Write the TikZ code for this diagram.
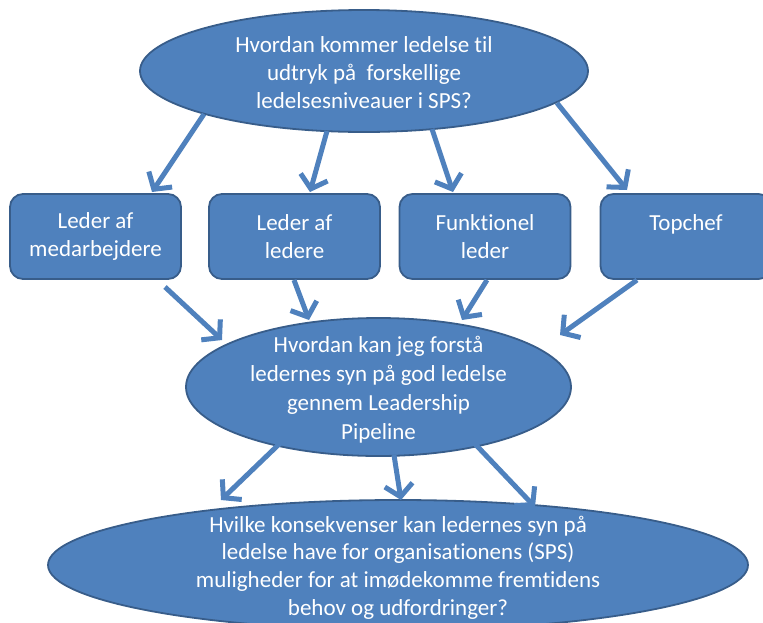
\documentclass[tikz,border=0pt]{standalone}
\usepackage{fontspec}
\setmainfont[Ligatures={NoCommon}]{Carlito}
\usetikzlibrary{shapes.geometric,arrows.meta,calc}
\definecolor{fillblue}{HTML}{4F81BD}
\definecolor{edgeblue}{HTML}{385D8A}
\definecolor{arrowblue}{HTML}{4F81BD}
\begin{document}
\begin{tikzpicture}[x=1pt,y=-1pt,
  txt/.style={text=white,font=\fontsize{23}{28}\selectfont,align=center,inner sep=0pt},
  oval/.style={ellipse,draw=edgeblue,line width=1.8pt,fill=fillblue,inner sep=0pt},
  levelbox/.style={rectangle,rounded corners=13pt,draw=edgeblue,line width=1.8pt,fill=fillblue,
    minimum width=171pt,minimum height=85pt,inner sep=0pt,text=white,
    font=\fontsize{23}{28}\selectfont,align=center},
  arr/.style={draw=arrowblue,line width=5pt,-{Straight Barb[length=12pt,width=28pt]}}
]
\useasboundingbox (0,0) rectangle (763,622);
\clip (0,0) rectangle (763,622);
% top ellipse
\node[oval,minimum width=448pt,minimum height=122pt] (top) at (364,71) {};
\node[txt] (toptext) at (364,73) {Hvordan kommer ledelse til\\udtryk på~ forskellige\\ledelsesniveauer i SPS?};
% boxes
\node[levelbox] (b1) at (95.5,236.5) {Leder af\\medarbejdere};
\node[levelbox] (b2) at (294.5,236.5) {Leder af\\ledere};
\node[levelbox] (b3) at (485,236.5) {Funktionel\\leder};
\node[levelbox] (b4) at (686,236.5) {Topchef\\~};
% middle ellipse
\node[oval,minimum width=385pt,minimum height=138pt] (mid) at (378.5,387) {};
\node[txt,font=\fontsize{23}{29}\selectfont] (midtext) at (378.5,389.5) {Hvordan kan jeg forstå\\ledernes syn på god ledelse\\gennem Leadership\\Pipeline};
% bottom ellipse
\node[oval,minimum width=700pt,minimum height=130pt] (bot) at (398,565) {};
\node[txt,font=\fontsize{23}{27.7}\selectfont] (bottext) at (398,567.5) {Hvilke konsekvenser kan ledernes syn på\\ledelse have for organisationens (SPS)\\muligheder for at imødekomme fremtidens\\behov og udfordringer?};
% arrows top -> boxes
\draw[arr] ($(top.center)+(-160,43)$) -- ($(b1.center)+(56.5,-44.5)$);
\draw[arr] ($(top.center)+(-37,60)$) -- ($(b2.center)+(15.5,-44.5)$);
\draw[arr] ($(top.center)+(68,58)$) -- ($(b3.center)+(-32,-44.5)$);
\draw[arr] ($(top.center)+(193,32)$) -- ($(b4.center)+(-59,-46.5)$);
% arrows boxes -> middle
\draw[arr] ($(b1.center)+(69.5,50.5)$) -- ($(mid.center)+(-156.5,-47)$);
\draw[arr] ($(b2.center)+(-0.5,43.5)$) -- ($(mid.center)+(-69.5,-67)$);
\draw[arr] ($(b3.center)+(2,43.5)$) -- ($(mid.center)+(83.5,-67)$);
\draw[arr] ($(b4.center)+(-49,43.5)$) -- ($(mid.center)+(181.5,-52)$);
% arrows middle -> bottom
\draw[arr] ($(mid.center)+(-79.5,38)$) -- ($(bot.center)+(-177,-65)$);
\draw[arr] ($(mid.center)+(15.5,68)$) -- ($(bot.center)+(3,-65)$);
\draw[arr] ($(mid.center)+(78.5,38)$) -- ($(bot.center)+(137,-58)$);
\end{tikzpicture}
\end{document}
